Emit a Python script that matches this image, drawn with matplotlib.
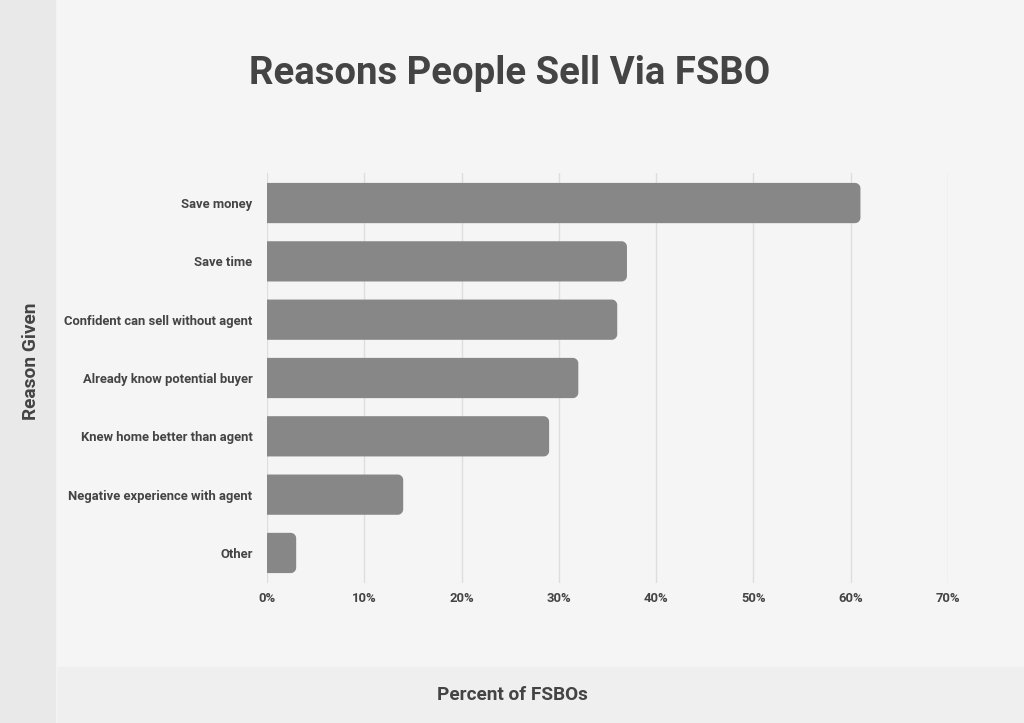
import numpy as np
import matplotlib as mpl
mpl.use('Agg')
import matplotlib.pyplot as plt
from matplotlib.patches import Rectangle, Polygon

plt.rcParams['font.family'] = ['Roboto', 'DejaVu Sans']

reasons = ["Save money", "Save time", "Confident can sell without agent",
           "Already know potential buyer", "Knew home better than agent",
           "Negative experience with agent", "Other"]
percents = [61, 37, 36, 32, 29, 14, 3]
xticks = [0, 10, 20, 30, 40, 50, 60, 70]

txt = '#444444'
bar_col = '#878787'


def rounded_bar(ax, yc, w, h, rx, ry, **kw):
    # bar from 0 to w, only the right end rounded
    t = np.linspace(0, np.pi / 2, 12)
    top = [(w - rx + rx * np.cos(a), yc - h / 2 + ry - ry * np.sin(a)) for a in t[::-1]]
    bot = [(w - rx + rx * np.cos(a), yc + h / 2 - ry + ry * np.sin(a)) for a in t]
    pts = [(0, yc - h / 2)] + top + bot + [(0, yc + h / 2)]
    ax.add_patch(Polygon(pts, closed=True, **kw))


fig = plt.figure(figsize=(10.24, 7.23), dpi=100)
fig.patch.set_facecolor('#f5f5f5')

# side / bottom bands
fig.patches.append(Rectangle((0, 0), 55 / 1024, 1, transform=fig.transFigure,
                             color='#e9e9e9', zorder=0))
fig.patches.append(Rectangle((58 / 1024, 0), 1, 56 / 723, transform=fig.transFigure,
                             color='#efefef', zorder=0))

ax = fig.add_axes([267 / 1024, 1 - 583 / 723, (948 - 267) / 1024, (583 - 173) / 723])
ax.set_facecolor('none')

y = np.arange(len(reasons))
h = 0.69
xpx = (948 - 267) / 70
ypx = (583 - 173) / 7.03
r = 5.5  # corner radius, px

for yi, v in zip(y, percents):
    rounded_bar(ax, yi, v, h, r / xpx, r / ypx, fc=bar_col, ec='none', zorder=2)

ax.set_xlim(0, 70)
ax.set_ylim(6.515, -0.515)
ax.set_xticks(xticks)
ax.set_xticklabels([f"{t}%" for t in xticks], fontsize=9.4, fontweight='bold', color=txt)
ax.set_yticks(y)
ax.set_yticklabels(reasons, fontsize=9.4, fontweight='bold', color=txt)
ax.tick_params(length=0)
ax.tick_params(axis='y', pad=10.5)
ax.tick_params(axis='x', pad=6.5)
ax.xaxis.grid(True, color='#dedede', lw=1, zorder=0)
for s in ax.spines.values():
    s.set_visible(False)

fig.text(510 / 1024, 1 - 73 / 723, "Reasons People Sell Via FSBO", ha='center', va='center',
         fontsize=27.6, fontweight='bold', color=txt)
fig.text(31 / 1024, 1 - 361 / 723, "Reason Given", rotation=90, ha='center', va='center',
         fontsize=13.8, fontweight='bold', color=txt)
fig.text(512 / 1024, 1 - 695 / 723, "Percent of FSBOs", ha='center', va='center',
         fontsize=13.7, fontweight='bold', color=txt)

fig.savefig('out.png', dpi=100, facecolor=fig.get_facecolor())
